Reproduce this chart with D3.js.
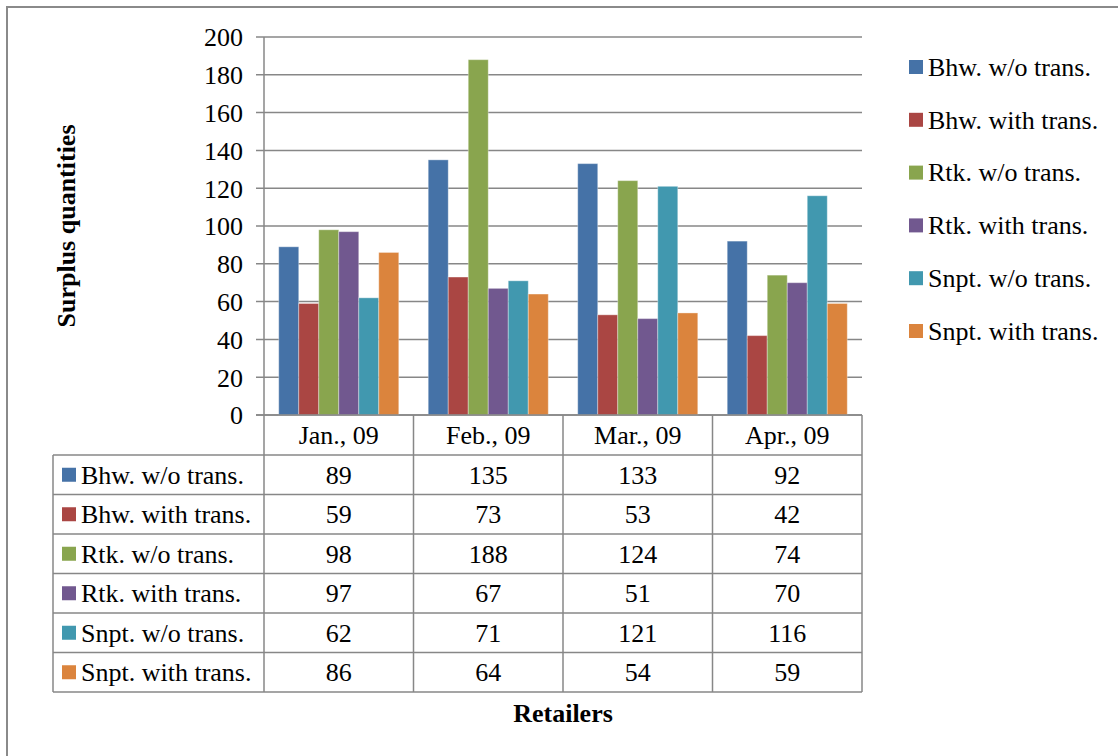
<!DOCTYPE html>
<html>
<head>
<meta charset="utf-8">
<script src="https://cdn.jsdelivr.net/npm/d3@7"></script>
<style>
  html, body { margin: 0; padding: 0; background: #fff; }
  svg { display: block; }
  text { font-family: "Liberation Serif", "Times New Roman", serif; fill: #000; }
</style>
</head>
<body>
<svg id="chart" width="1118" height="756"></svg>
<script>
const categories = ["Jan., 09", "Feb., 09", "Mar., 09", "Apr., 09"];
const seriesNames = ["Bhw. w/o trans.", "Bhw. with trans.", "Rtk. w/o trans.", "Rtk. with trans.", "Snpt. w/o trans.", "Snpt. with trans."];
const bhwWithout = [89, 135, 133, 92];
const bhwWith = [59, 73, 53, 42];
const rtkWithout = [98, 188, 124, 74];
const rtkWith = [97, 67, 51, 70];
const snptWithout = [62, 71, 121, 116];
const snptWith = [86, 64, 54, 59];
const yTicks = [0, 20, 40, 60, 80, 100, 120, 140, 160, 180, 200];
const colors = ["#4572A7", "#AA4643", "#89A54E", "#71588F", "#4198AF", "#DB843D"];

const seriesValues = [bhwWithout, bhwWith, rtkWithout, rtkWith, snptWithout, snptWith];
const series = seriesNames.map((name, i) => ({ name, values: seriesValues[i], color: colors[i] }));

const svg = d3.select("#chart");
const fs = 26;
const gridColor = "#878787";

// outer frame (top and left visible)
svg.append("path").attr("d", "M7,756 L7,7 L1118,7").attr("fill", "none").attr("stroke", "#8a8a8a").attr("stroke-width", 2);

const plot = { left: 264, right: 862, top: 37, bottom: 415 };
const x = d3.scaleBand().domain(categories).range([plot.left, plot.right]).padding(0);
const y = d3.scaleLinear().domain([0, 200]).range([plot.bottom, plot.top]);
const bw = x.bandwidth();
const gap = bw * 0.197;
const xInner = d3.scaleBand().domain(seriesNames).range([gap / 2, bw - gap / 2]).padding(0);

// gridlines + tick marks
const grid = svg.append("g");
grid.selectAll("line").data(yTicks).join("line")
  .attr("x1", plot.left - 8).attr("x2", plot.right)
  .attr("y1", d => y(d)).attr("y2", d => y(d))
  .attr("stroke", gridColor).attr("stroke-width", 1.5);

// y axis line
svg.append("line").attr("x1", plot.left).attr("x2", plot.left)
  .attr("y1", plot.top).attr("y2", plot.bottom)
  .attr("stroke", gridColor).attr("stroke-width", 1.5);

// y tick labels via d3 axis
const yAxis = d3.axisLeft(y).tickValues(yTicks).tickSize(0).tickPadding(0);
const yg = svg.append("g").attr("transform", `translate(${plot.left - 21},0)`).call(yAxis);
yg.select(".domain").remove();
yg.selectAll("text").attr("font-size", fs).attr("font-family", '"Liberation Serif", "Times New Roman", serif').attr("fill", "#000").attr("dy", "0.34em");

// bars
const groups = svg.append("g").selectAll("g").data(series).join("g").attr("fill", d => d.color);
groups.selectAll("rect").data(s => s.values.map((v, i) => ({ s, v, cat: categories[i] }))).join("rect")
  .attr("x", d => x(d.cat) + xInner(d.s.name))
  .attr("width", xInner.bandwidth())
  .attr("y", d => y(d.v))
  .attr("height", d => y(0) - y(d.v))
  .attr("stroke", "rgba(255,255,255,0.35)").attr("stroke-width", 1);

// axis line at zero
svg.append("line").attr("x1", plot.left - 8).attr("x2", plot.right)
  .attr("y1", y(0)).attr("y2", y(0)).attr("stroke", gridColor).attr("stroke-width", 1.5);

// data table
const tableTop = 455, rowH = 39.5, tableLeft = 53;
const tableBottom = tableTop + rowH * series.length;
const tbl = svg.append("g");
// vertical lines at category boundaries
const vx = categories.map(c => x(c)).concat([plot.right]);
tbl.selectAll("line.v").data(vx).join("line").attr("class", "v")
  .attr("x1", d => d).attr("x2", d => d).attr("y1", plot.bottom).attr("y2", tableBottom)
  .attr("stroke", gridColor).attr("stroke-width", 1.5);
tbl.append("line").attr("x1", tableLeft).attr("x2", tableLeft).attr("y1", tableTop).attr("y2", tableBottom)
  .attr("stroke", gridColor).attr("stroke-width", 1.5);
const hy = d3.range(series.length + 1).map(i => tableTop + i * rowH);
tbl.selectAll("line.h").data(hy).join("line").attr("class", "h")
  .attr("x1", tableLeft).attr("x2", plot.right).attr("y1", d => d).attr("y2", d => d)
  .attr("stroke", gridColor).attr("stroke-width", 1.5);

// category header labels
tbl.selectAll("text.cat").data(categories).join("text").attr("class", "cat")
  .attr("x", d => x(d) + bw / 2).attr("y", (plot.bottom + tableTop) / 2)
  .attr("dy", "0.34em").attr("text-anchor", "middle").attr("font-size", fs).text(d => d);

// rows
const rows = tbl.selectAll("g.row").data(series).join("g").attr("class", "row")
  .attr("transform", (d, i) => `translate(0,${tableTop + i * rowH + rowH / 2})`);
rows.append("rect").attr("x", 62).attr("y", -7).attr("width", 14).attr("height", 14).attr("fill", d => d.color);
rows.append("text").attr("x", 81).attr("dy", "0.34em").attr("font-size", fs).text(d => d.name);
rows.selectAll("text.val").data(d => d.values.map((v, i) => ({ v, cat: categories[i] }))).join("text").attr("class", "val")
  .attr("x", d => x(d.cat) + bw / 2).attr("dy", "0.34em").attr("text-anchor", "middle").attr("font-size", fs).text(d => d.v);

// legend
const legend = svg.append("g").selectAll("g").data(series).join("g")
  .attr("transform", (d, i) => `translate(909,${67 + i * 52.8})`);
legend.append("rect").attr("x", 0).attr("y", -7).attr("width", 14).attr("height", 14).attr("fill", d => d.color);
legend.append("text").attr("x", 19).attr("dy", "0.34em").attr("font-size", fs).text(d => d.name);

// axis titles
svg.append("text").attr("transform", "translate(66,226) rotate(-90)")
  .attr("text-anchor", "middle").attr("dy", "0.34em").attr("font-size", fs).attr("font-weight", "bold").text("Surplus quantities");
svg.append("text").attr("x", 563).attr("y", 713).attr("dy", "0.34em")
  .attr("text-anchor", "middle").attr("font-size", fs).attr("font-weight", "bold").text("Retailers");
</script>
</body>
</html>
